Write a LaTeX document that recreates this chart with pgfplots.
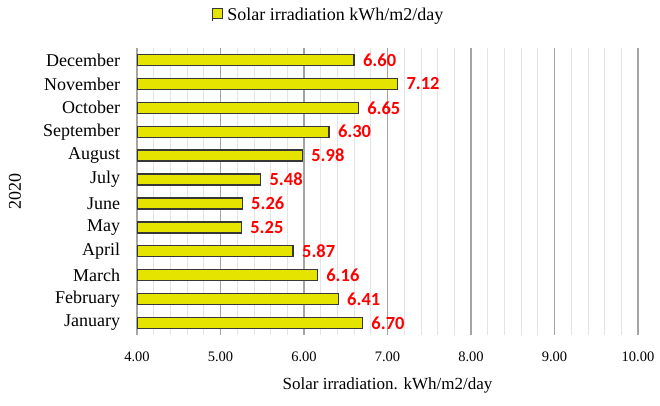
\documentclass[border=0pt]{standalone}
\usepackage{pgfplots}
\pgfplotsset{compat=1.18}
\usepackage{fontspec}
\setmainfont{Liberation Serif}
\newfontfamily\valfont{Carlito}
\definecolor{baryellow}{RGB}{228,228,0}
\definecolor{barborder}{RGB}{55,55,55}
\definecolor{majgrid}{RGB}{165,165,165}
\definecolor{mingrid}{RGB}{228,228,228}
\begin{document}
\begin{tikzpicture}[x=1pt,y=1pt]
\useasboundingbox (0,0) rectangle (660,405);
\begin{axis}[
  at={(137pt,70pt)}, anchor=south west,
  scale only axis, width=501pt, height=287pt,
  xbar, bar width=11pt,
  xmin=4, xmax=10, ymin=-0.5, ymax=11.5,
  xtick={4,5,...,10}, minor x tick num=4,
  ytick={0,...,11},
  yticklabels={January,February,March,April,May,June,July,August,September,October,November,December},
  xmajorgrids, xminorgrids,
  major grid style={draw=majgrid, line width=1.4pt},
  minor grid style={draw=mingrid, line width=0.8pt},
  axis line style={draw=none},
  major tick style={draw=none}, minor tick style={draw=none},
  xticklabel style={font=\fontsize{14.5}{14.5}\selectfont, yshift=-13pt},
  x tick label style={/pgf/number format/fixed, /pgf/number format/fixed zerofill, /pgf/number format/precision=2, /pgf/number format/assume math mode=true},
  y tick label style={font=\fontsize{18}{18}\selectfont, xshift=-9pt},
  xlabel={Solar irradiation. kWh/m2/day},
  xlabel style={font=\fontsize{17}{17}\selectfont, at={(axis description cs:0.5,0)}, anchor=center, yshift=-50pt},
  ylabel={2020},
  ylabel style={font=\fontsize{18}{18}\selectfont, at={(axis description cs:-0.2435,0.5)}, anchor=center},
  point meta=x,
  nodes near coords={\pgfmathprintnumber[fixed,fixed zerofill,precision=2,assume math mode=true]{\pgfplotspointmeta}},
  nodes near coords style={font=\valfont\bfseries\fontsize{18.5}{18.5}\selectfont, text=red, anchor=west, xshift=5pt},
  legend style={at={(rel axis cs:0.385,1.115)}, anchor=center, draw=none, fill=none, font=\fontsize{18}{18}\selectfont},
  legend image code/.code={
    \draw[fill=baryellow, draw=barborder, line width=1pt] (0pt,-4pt) rectangle (10pt,6pt);
    \draw[barborder, line width=1pt] (0pt,-6pt) -- (0pt,7pt);
  },
  legend cell align=left,
  legend style={/tikz/every even column/.append style={column sep=0pt}, nodes={inner sep=4pt}},
]
\addplot[fill=baryellow, draw=barborder, line width=1.3pt] coordinates {
  (6.70,0) (6.41,1) (6.16,2) (5.87,3) (5.25,4) (5.26,5)
  (5.48,6) (5.98,7) (6.30,8) (6.65,9) (7.12,10) (6.60,11)
};
\addlegendentry{Solar irradiation kWh/m2/day}
\end{axis}
\end{tikzpicture}
\end{document}
